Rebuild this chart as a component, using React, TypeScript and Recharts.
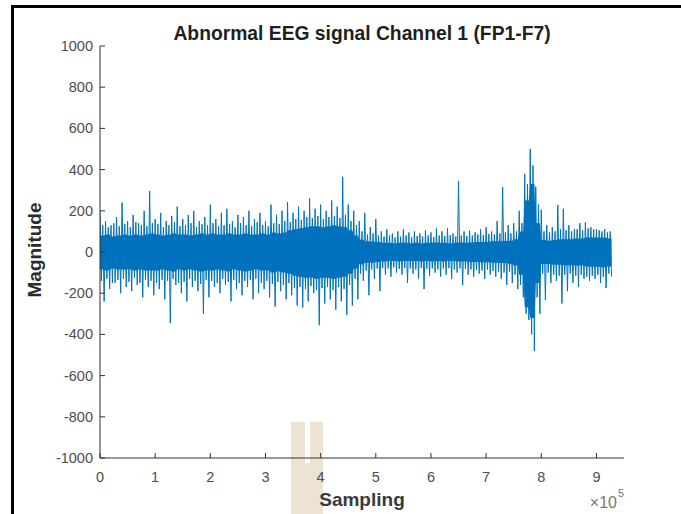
import { ComposedChart, Line, Area, XAxis, YAxis } from "recharts"

// one bin = 10000 samples, bins (0 .. 9.2e5)
const BIN = 10000

// tallest excursions in each bin
const peakHi = [
  200, 150, 130, 170, 240, 150, 180, 140, 200, 296,
  160, 190, 150, 175, 220, 160, 180, 200, 150, 170,
  230, 160, 190, 210, 150, 180, 170, 200, 160, 190,
  150, 230, 180, 200, 242, 190, 220, 200, 260, 210,
  230, 200, 250, 220, 365, 230, 200, 150, 190, 120,
  160, 100, 110, 90, 100, 110, 95, 100, 90, 105,
  95, 115, 100, 115, 90, 345, 100, 105, 95, 110,
  120, 100, 150, 315, 130, 140, 200, 380, 500, 317,
  205, 130, 120, 228, 210, 130, 110, 140, 145, 120,
  110, 100, 95,
]
const peakLo = [
  -240, -180, -150, -200, -170, -190, -160, -220, -170, -210,
  -180, -230, -345, -160, -200, -240, -170, -190, -300, -220,
  -170, -200, -160, -240, -180, -210, -170, -230, -200, -180,
  -220, -265, -190, -230, -210, -260, -270, -240, -200, -355,
  -250, -230, -280, -240, -305, -260, -230, -140, -210, -130,
  -190, -110, -120, -100, -110, -150, -105, -130, -180, -115,
  -100, -120, -110, -130, -100, -160, -110, -120, -105, -130,
  -110, -120, -130, -160, -150, -180, -220, -330, -480, -300,
  -233, -150, -140, -250, -190, -150, -170, -130, -140, -130,
  -150, -175, -120,
]

// fuzzy edge just outside the dense band
const fringeHi = [
  130, 120, 140, 125, 135, 120, 145, 130, 125, 140,
  135, 120, 130, 145, 125, 130, 140, 120, 135, 130,
  140, 125, 130, 135, 120, 140, 130, 125, 145, 130,
  125, 140, 135, 150, 145, 160, 155, 170, 165, 175,
  160, 170, 175, 165, 180, 150, 130, 100, 85, 90,
  80, 75, 80, 70, 75, 80, 72, 78, 75, 80,
  72, 80, 78, 82, 75, 80, 78, 80, 85, 82,
  88, 85, 90, 95, 90, 100, 140, 330, 420, 230,
  100, 95, 100, 110, 105, 100, 110, 105, 115, 110,
  105, 110, 100,
]
const fringeLo = [
  -140, -130, -150, -135, -130, -145, -125, -150, -135, -140,
  -150, -135, -140, -130, -150, -145, -130, -140, -155, -135,
  -140, -150, -130, -145, -135, -150, -140, -135, -130, -150,
  -140, -155, -145, -160, -150, -175, -170, -180, -165, -185,
  -175, -170, -185, -170, -180, -160, -130, -105, -90, -85,
  -80, -78, -80, -75, -82, -78, -80, -85, -78, -82,
  -80, -85, -80, -78, -85, -80, -82, -85, -88, -90,
  -85, -92, -95, -100, -95, -110, -160, -300, -400, -220,
  -105, -100, -110, -115, -110, -105, -115, -110, -120, -115,
  -110, -120, -105,
]

// dense band of the signal in each bin
const coreHi = [
  80, 85, 75, 80, 85, 80, 85, 80, 85, 90,
  85, 80, 85, 90, 85, 85, 80, 85, 90, 85,
  90, 85, 85, 90, 85, 85, 90, 85, 85, 90,
  85, 95, 90, 95, 105, 110, 115, 120, 125, 125,
  120, 125, 130, 125, 120, 105, 80, 60, 52, 50,
  48, 45, 45, 42, 45, 45, 42, 45, 42, 45,
  46, 45, 45, 42, 45, 46, 45, 46, 48, 48,
  50, 52, 52, 54, 55, 62, 100, 250, 330, 140,
  58, 55, 58, 62, 62, 62, 66, 66, 70, 70,
  70, 70, 66,
]
const coreLo = [
  -85, -90, -80, -85, -85, -85, -90, -85, -90, -90,
  -90, -85, -90, -95, -85, -90, -85, -90, -95, -90,
  -90, -85, -90, -95, -85, -90, -95, -90, -85, -90,
  -90, -100, -95, -100, -105, -115, -120, -125, -125, -130,
  -125, -125, -130, -125, -120, -105, -80, -60, -52, -52,
  -48, -46, -44, -44, -46, -44, -44, -44, -46, -44,
  -46, -44, -46, -44, -44, -46, -46, -48, -48, -50,
  -50, -52, -52, -54, -57, -66, -110, -270, -320, -150,
  -58, -58, -62, -62, -64, -64, -66, -66, -70, -72,
  -72, -74, -70,
]

const xTicks = [0, 1, 2, 3, 4, 5, 6, 7, 8, 9].map((v) => v * 100000)
const yTicks = [-1000, -800, -600, -400, -200, 0, 200, 400, 600, 800, 1000]

// four points per bin so the trace keeps going up / down like the recording
const rows = peakHi.flatMap((hi, i) => {
  const core = [coreLo[i], coreHi[i]]
  return [
    { x: i * BIN, signal: hi, core },
    { x: i * BIN + BIN / 4, signal: fringeLo[i], core },
    { x: i * BIN + BIN / 2, signal: fringeHi[i], core },
    { x: i * BIN + (3 * BIN) / 4, signal: peakLo[i], core },
  ]
})

const BLUE = "#0072BD"
const AXIS = "#333333"
const TICK_TEXT = "#4d4d4d"
const FONT = "'Liberation Sans', Arial, Helvetica, sans-serif"

function BottomTick({ x, y, payload }: any) {
  return (
    <g>
      <line x1={x} y1={y} x2={x} y2={y - 5} stroke={AXIS} />
      <text x={x} y={y + 24} textAnchor="middle" fontSize={14.5} fill={TICK_TEXT} fontFamily={FONT}>
        {payload.value / 100000}
      </text>
    </g>
  )
}

function TopTick({ x, y }: any) {
  return <line x1={x} y1={y} x2={x} y2={y + 5} stroke={AXIS} />
}

function LeftTick({ x, y, payload }: any) {
  return (
    <g>
      <line x1={x} y1={y} x2={x + 5} y2={y} stroke={AXIS} />
      <text x={x - 7} y={y + 5} textAnchor="end" fontSize={14.5} fill={TICK_TEXT} fontFamily={FONT}>
        {payload.value}
      </text>
    </g>
  )
}

function RightTick({ x, y }: any) {
  return <line x1={x} y1={y} x2={x - 5} y2={y} stroke={AXIS} />
}

export default function App() {
  return (
    <div style={{ position: "fixed", left: 0, top: 0, width: 681, height: 514, background: "#fff", overflow: "hidden" }}>
      {/* faint watermark behind the axis */}
      <div style={{ position: "absolute", left: 291, top: 422, width: 14, height: 92, background: "#ece3d2" }} />
      <div style={{ position: "absolute", left: 310, top: 422, width: 13, height: 92, background: "#ece3d2" }} />
      <div style={{ position: "absolute", left: 305, top: 463, width: 5, height: 51, background: "#ece3d2" }} />
      {/* page frame */}
      <div style={{ position: "absolute", left: 11, top: 5, width: 670, height: 2.5, background: "#000" }} />
      <div style={{ position: "absolute", left: 11, top: 5, width: 2.5, height: 509, background: "#000" }} />

      <div style={{ position: "absolute", left: 0, top: 0 }}>
        <ComposedChart
          width={681}
          height={514}
          data={rows}
          margin={{ top: 46, right: 57, bottom: 0, left: 0 }}
          style={{ fontFamily: FONT }}
        >
          <XAxis
            dataKey="x"
            type="number"
            domain={[0, 950000]}
            ticks={xTicks}
            allowDataOverflow
            height={56}
            stroke={AXIS}
            tickLine={false}
            tickSize={0}
            tickMargin={0}
            tick={<BottomTick />}
          />
          <XAxis
            xAxisId="top"
            dataKey="x"
            type="number"
            orientation="top"
            domain={[0, 950000]}
            ticks={xTicks}
            allowDataOverflow
            height={0}
            stroke={AXIS}
            tickLine={false}
            tickSize={0}
            tickMargin={0}
            tick={<TopTick />}
          />
          <YAxis
            type="number"
            domain={[-1000, 1000]}
            ticks={yTicks}
            allowDataOverflow
            width={100}
            stroke={AXIS}
            tickLine={false}
            tickSize={0}
            tickMargin={0}
            tick={<LeftTick />}
          />
          <YAxis
            yAxisId="right"
            type="number"
            orientation="right"
            domain={[-1000, 1000]}
            ticks={yTicks}
            allowDataOverflow
            width={0}
            stroke={AXIS}
            tickLine={false}
            tickSize={0}
            tickMargin={0}
            tick={<RightTick />}
          />
          <Area
            dataKey="core"
            type="linear"
            fill={BLUE}
            fillOpacity={1}
            stroke="none"
            isAnimationActive={false}
            dot={false}
            activeDot={false}
          />
          <Line
            dataKey="signal"
            type="linear"
            stroke={BLUE}
            strokeWidth={1}
            dot={false}
            activeDot={false}
            isAnimationActive={false}
          />
          <text x={362} y={40} textAnchor="middle" fontSize={19.3} fontWeight="bold" fill="#1f1f1f" fontFamily={FONT}>
            Abnormal EEG signal Channel 1 (FP1-F7)
          </text>
          <text
            x={41}
            y={250}
            textAnchor="middle"
            fontSize={19}
            fontWeight="bold"
            fill="#2b2b2b"
            fontFamily={FONT}
            transform="rotate(-90 41 250)"
          >
            Magnitude
          </text>
          <text x={362} y={506} textAnchor="middle" fontSize={19} fontWeight="bold" fill="#3a3a3a" fontFamily={FONT}>
            Sampling
          </text>
          <text x={617} y={508} textAnchor="end" fontSize={16} fill="#777" fontFamily={FONT}>
            ×10
          </text>
          <text x={618} y={497} fontSize={11} fill="#777" fontFamily={FONT}>
            5
          </text>
        </ComposedChart>
      </div>
    </div>
  )
}
